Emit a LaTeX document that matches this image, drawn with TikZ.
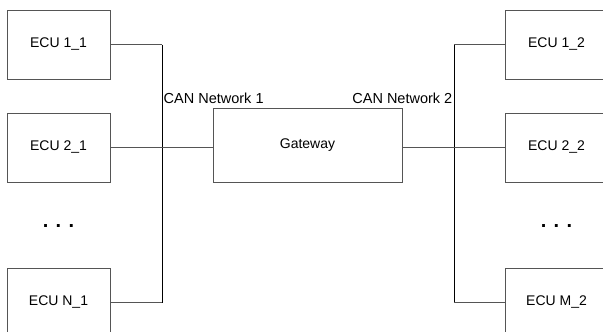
\documentclass[tikz,border=0pt]{standalone}
\usepackage{fontspec}
\setmainfont{Liberation Sans}
\usetikzlibrary{positioning, calc}
\definecolor{cLine}{HTML}{555555}

\begin{document}
\begin{tikzpicture}[
    x=1pt, y=-1pt,
    ecu/.style={
        draw=cLine, line width=0.8pt, minimum width=103pt, minimum height=69pt,
        inner sep=0pt, font=\fontsize{14}{16}\selectfont
    },
    gwbox/.style={ecu, minimum width=189pt, minimum height=74pt},
    wire/.style={draw=cLine, line width=0.8pt},
    bus/.style={draw=black, line width=0.8pt},
    lbl/.style={font=\fontsize{14.5}{16}\selectfont, inner sep=0pt},
    dots/.style={font=\fontsize{20}{22}\selectfont\bfseries, inner sep=0pt, anchor=base},
]

\useasboundingbox (0,0) rectangle (603,332);
\clip (0,0) rectangle (603,332);

% =============================================
% NETWORK 1 (left side)
% =============================================

\node[ecu] (e11) at (58.5, 44.5) {ECU 1\_1};
\node[ecu] (e21) at (58.5, 147.5) {ECU 2\_1};
\node[dots] (dl) at (58.5, 227.5) {. . .};
\node[ecu] (eN1) at (58.5, 302.5) {ECU N\_1};

\coordinate (b1t) at (162, 44.5);
\coordinate (b1b) at (162, 302.5);

% =============================================
% GATEWAY
% =============================================

\node[gwbox] (gw) at (307.5, 145) {Gateway};

% =============================================
% NETWORK 2 (right side)
% =============================================

\node[ecu] (e12) at (556.5, 44.5) {ECU 1\_2};
\node[ecu] (e22) at (556.5, 147.5) {ECU 2\_2};
\node[dots] (dr) at (556.5, 227.5) {. . .};
\node[ecu] (eM2) at (556.5, 302.5) {ECU M\_2};

\coordinate (b2t) at (454, 44.5);
\coordinate (b2b) at (454, 302.5);

% bus lines
\draw[bus] (b1t) -- (b1b);
\draw[bus] (b2t) -- (b2b);

% stubs to the buses
\draw[wire] (e11.east) -- (b1t);
\draw[wire] (e21.east) -- (e21.east -| gw.west);
\draw[wire] (eN1.east) -- (b1b);
\draw[wire] (e12.west) -- (b2t);
\draw[wire] (e22.west) -- (e22.west -| gw.east);
\draw[wire] (eM2.west) -- (b2b);

% bus names
\node[lbl, anchor=base west] (can1) at (163.5, 103) {CAN Network 1};
\node[lbl, anchor=base east] (can2) at (452.5, 103) {CAN Network 2};

\end{tikzpicture}
\end{document}
